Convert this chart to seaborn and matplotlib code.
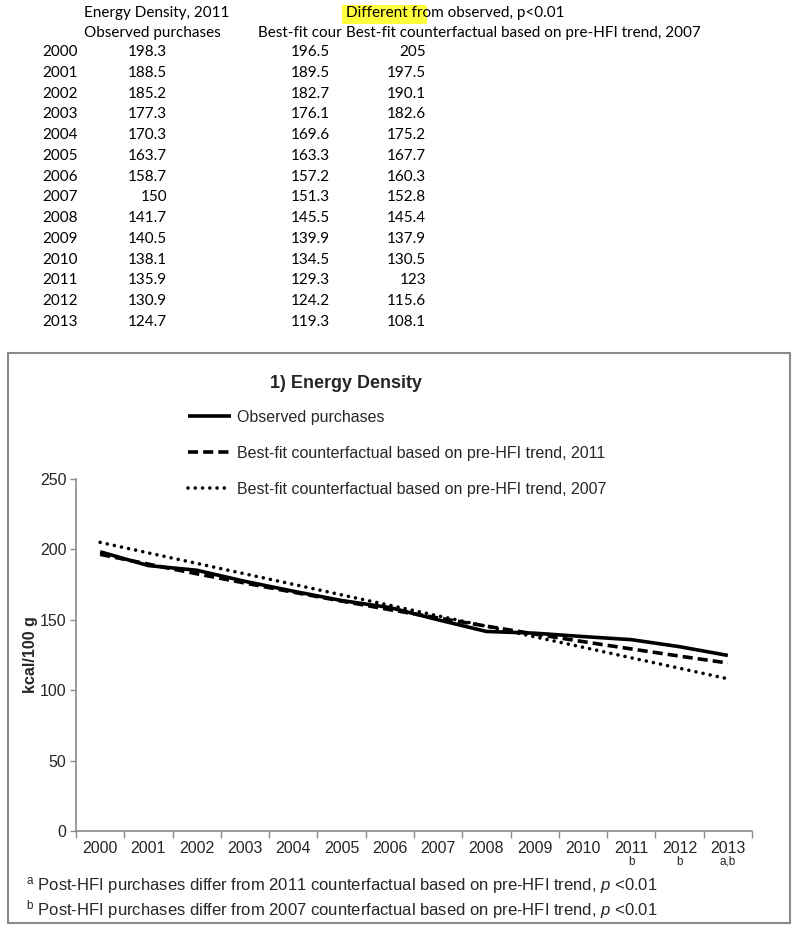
import matplotlib
matplotlib.use("Agg")
import matplotlib.pyplot as plt
import matplotlib.patches as mpatches
import matplotlib.transforms as mtransforms
import seaborn as sns
import pandas as pd

years = [2000, 2001, 2002, 2003, 2004, 2005, 2006, 2007, 2008, 2009, 2010, 2011, 2012, 2013]
observed = [198.3, 188.5, 185.2, 177.3, 170.3, 163.7, 158.7, 150, 141.7, 140.5, 138.1, 135.9, 130.9, 124.7]
cf_2011 = [196.5, 189.5, 182.7, 176.1, 169.6, 163.3, 157.2, 151.3, 145.5, 139.9, 134.5, 129.3, 124.2, 119.3]
cf_2007 = [205, 197.5, 190.1, 182.6, 175.2, 167.7, 160.3, 152.8, 145.4, 137.9, 130.5, 123, 115.6, 108.1]
series_names = ["Observed purchases",
                "Best-fit counterfactual based on pre-HFI trend, 2011",
                "Best-fit counterfactual based on pre-HFI trend, 2007"]
sig_marks = {2011: "b", 2012: "b", 2013: "a,b"}
y_ticks = [0, 50, 100, 150, 200, 250]

sns.set_style("white")
plt.rcParams["font.family"] = ["Liberation Sans", "DejaVu Sans"]
plt.rcParams["mathtext.fontset"] = "custom"
plt.rcParams["mathtext.rm"] = "Liberation Sans"
plt.rcParams["mathtext.it"] = "Liberation Sans:italic"

W, H = 800, 931
fig = plt.figure(figsize=(W / 100, H / 100), dpi=100)

def fx(px):
    return px / W

def fy(py):
    return 1 - py / H

# ---------------- spreadsheet table ----------------
tfont = dict(family=["Lato", "DejaVu Sans"], fontsize=11, color="black")
fig.patches.append(mpatches.Rectangle((fx(342), fy(24)), fx(427) - fx(342), fy(5) - fy(24),
                                      transform=fig.transFigure, facecolor="#ffff3c",
                                      edgecolor="none", zorder=0))
fig.text(fx(84), fy(13), "Energy Density, 2011", va="center", ha="left", **tfont)
fig.text(fx(346), fy(13), "Different from observed, p<0.01", va="center", ha="left", **tfont)
fig.text(fx(84), fy(33), "Observed purchases", va="center", ha="left", **tfont)
fig.text(fx(258), fy(33), "Best-fit cour", va="center", ha="left", **tfont)
fig.text(fx(346), fy(33), "Best-fit counterfactual based on pre-HFI trend, 2007",
         va="center", ha="left", **tfont)
row0, rstep = 52, 20.77
for i, yr in enumerate(years):
    yy = fy(row0 + i * rstep)
    fig.text(fx(78), yy, str(yr), va="center", ha="right", **tfont)
    fig.text(fx(167), yy, f"{observed[i]:g}", va="center", ha="right", **tfont)
    fig.text(fx(330), yy, f"{cf_2011[i]:g}", va="center", ha="right", **tfont)
    fig.text(fx(426), yy, f"{cf_2007[i]:g}", va="center", ha="right", **tfont)

# ---------------- chart box ----------------
fig.patches.append(mpatches.Rectangle((fx(8), fy(923)), fx(790) - fx(8), fy(353) - fy(923),
                                      transform=fig.transFigure, fill=False,
                                      edgecolor="#8a8a8a", linewidth=1.5, zorder=0))

ax = fig.add_axes([fx(76), fy(831), fx(752) - fx(76), fy(479) - fy(831)])

df = pd.DataFrame({
    "year": years * 3,
    "value": observed + cf_2011 + cf_2007,
    "series": [series_names[0]] * len(years) + [series_names[1]] * len(years) + [series_names[2]] * len(years),
})
sns.lineplot(data=df, x="year", y="value", style="series", style_order=series_names,
             dashes={series_names[0]: "", series_names[1]: (2.8, 1.4), series_names[2]: (0.01, 2.0)},
             color="black", linewidth=2.6, ax=ax, legend=False)
ax.lines[0].set_solid_capstyle("butt")
ax.lines[1].set_dash_capstyle("butt")
ax.lines[2].set_dash_capstyle("round")
ax.lines[2].set_linewidth(2.6)

ax.set_xlim(years[0] - 0.5, years[-1] + 0.5)
ax.set_ylim(0, 250)
ax.set_yticks(y_ticks)
ax.set_xticks(years)
ax.set_xticklabels([str(y) for y in years], fontsize=11.5)
ax.set_yticklabels([str(t) for t in y_ticks], fontsize=11.5)
ax.set_xticks([y + 0.5 for y in [years[0] - 1] + years], minor=True)
ax.tick_params(axis="x", which="major", length=0, pad=7)
ax.tick_params(axis="x", which="minor", length=5, width=1, color="#8a8a8a", direction="out", bottom=True)
ax.tick_params(axis="y", which="major", length=4, width=1, color="#8a8a8a", direction="out", left=True, pad=3)
for s in ["top", "right"]:
    ax.spines[s].set_visible(False)
for s in ["left", "bottom"]:
    ax.spines[s].set_color("#8a8a8a")
    ax.spines[s].set_linewidth(1.2)
ax.set_xlabel("")
ax.set_ylabel("")
ax.grid(False)

blend = mtransforms.blended_transform_factory(ax.transData, fig.transFigure)
for yr, mark in sig_marks.items():
    ax.text(yr, fy(862), mark, transform=blend, ha="center", va="center", fontsize=8.5)

fig.text(fx(30), fy(655), "kcal/100 g", rotation=90, ha="center", va="center",
         fontsize=11.5, fontweight="bold")
fig.text(fx(346), fy(383), "1) Energy Density", ha="center", va="center",
         fontsize=13, fontweight="bold")

handles = ax.lines[:3]
leg = fig.legend(handles, series_names, loc="upper left", bbox_to_anchor=(fx(188), fy(410)),
                 bbox_transform=fig.transFigure, frameon=False, fontsize=11.5,
                 handlelength=2.7, handletextpad=0.35, labelspacing=1.3, borderpad=0,
                 borderaxespad=0)

fig.text(fx(26), fy(886), r"$^{\rm a}$ Post-HFI purchases differ from 2011 counterfactual based on pre-HFI trend, $p$ <0.01",
         ha="left", va="center", fontsize=12)
fig.text(fx(26), fy(910), r"$^{\rm b}$ Post-HFI purchases differ from 2007 counterfactual based on pre-HFI trend, $p$ <0.01",
         ha="left", va="center", fontsize=12)

fig.savefig("out.png", dpi=100)
